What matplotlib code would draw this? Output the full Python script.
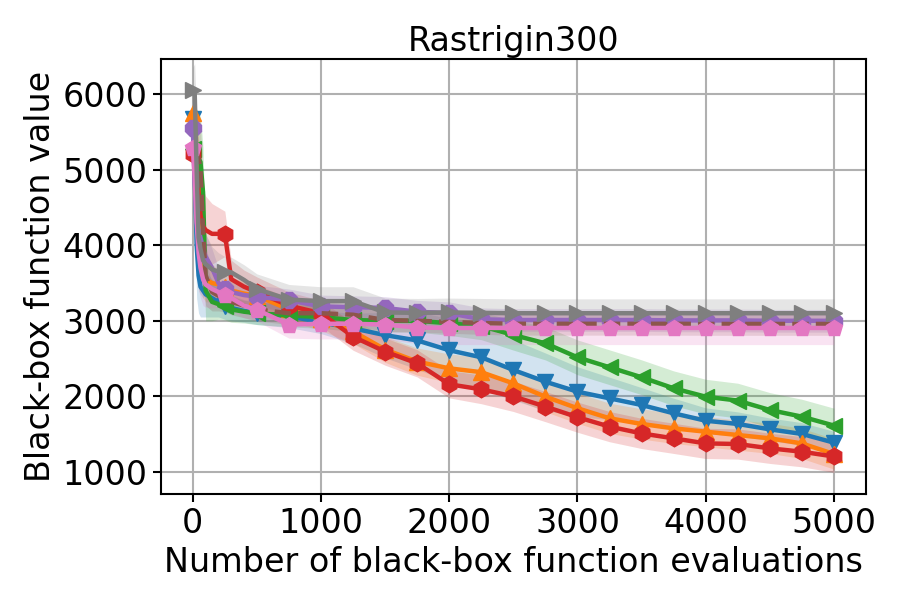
import matplotlib
matplotlib.use("Agg")
import matplotlib.pyplot as plt
import numpy as np

plt.rcParams['font.family'] = ['DejaVu Sans']

X = [0, 15, 30, 45, 60, 80, 100, 150, 200, 250, 300, 400, 500, 750, 1000,
     1250, 1500, 1750, 2000, 2250, 2500, 2750, 3000, 3250, 3500, 3750, 4000,
     4250, 4500, 4750, 5000]

blue = [5670, 5000, 4000, 3600, 3450, 3400, 3350, 3300, 3250, 3200, 3170, 3130, 3100, 3060, 2980,
        2900, 2810, 2740, 2610, 2517, 2349, 2194, 2062, 1974, 1886, 1776, 1678, 1635, 1564, 1503, 1388]
orange = [5750, 5300, 5200, 4800, 4000, 3700, 3550, 3500, 3480, 3450, 3400, 3360, 3330, 3150, 3020,
          2860, 2620, 2460, 2371, 2320, 2172, 1996, 1843, 1710, 1635, 1577, 1533, 1489, 1445, 1378, 1238]
green = [5270, 5250, 5200, 5150, 5100, 4700, 3400, 3250, 3220, 3190, 3150, 3120, 3100, 3070, 3050,
         3010, 3000, 3000, 2967, 2930, 2812, 2702, 2517, 2385, 2253, 2107, 1996, 1944, 1820, 1732, 1614]
red = [5200, 5150, 5000, 4700, 4400, 4250, 4200, 4150, 4150, 4150, 3550, 3450, 3380, 3200, 3100,
       2790, 2592, 2437, 2160, 2093, 2000, 1865, 1725, 1600, 1510, 1445, 1378, 1370, 1313, 1268, 1205]
purple = [5550, 4800, 4300, 4200, 4100, 3950, 3850, 3700, 3500, 3420, 3380, 3340, 3320, 3270, 3190,
          3180, 3170, 3120, 3100, 3020, 3010, 3010, 3010, 3010, 3010, 3005, 3005, 3005, 3000, 3000, 3000]
brown = [5250, 5250, 5200, 5150, 5000, 4200, 3600, 3380, 3330, 3300, 3250, 3200, 3150, 3100, 3100,
         3080, 3010, 3000, 2985, 2970, 2960, 2960, 2960, 2960, 2960, 2960, 2958, 2958, 2958, 2958, 2958]
pink = [5285, 4900, 4300, 3900, 3700, 3550, 3480, 3420, 3380, 3340, 3300, 3200, 3145, 2950, 2960,
        2960, 2950, 2910, 2905, 2905, 2905, 2905, 2905, 2905, 2905, 2905, 2905, 2905, 2905, 2905, 2905]
gray = [6050, 6000, 5000, 4100, 3950, 3800, 3750, 3680, 3650, 3650, 3640, 3540, 3420, 3280, 3260,
        3260, 3110, 3105, 3110, 3105, 3100, 3100, 3100, 3100, 3100, 3100, 3100, 3100, 3100, 3100, 3100]

blue_sd = [300, 600, 700, 500, 400, 350, 300, 250, 200, 180, 170, 150, 150, 150, 150,
           200, 300, 380, 420, 420, 400, 380, 330, 280, 230, 200, 170, 160, 150, 150, 150]
orange_sd = [300, 500, 600, 600, 500, 400, 300, 250, 200, 180, 170, 160, 150, 150, 150,
             160, 170, 180, 190, 200, 200, 200, 200, 200, 200, 200, 200, 200, 200, 200, 200]
green_sd = [300, 500, 600, 600, 600, 600, 400, 250, 200, 180, 170, 150, 150, 150, 150,
            150, 150, 150, 160, 180, 200, 220, 230, 230, 230, 230, 230, 230, 230, 230, 230]
red_sd = [300, 500, 600, 600, 600, 500, 450, 400, 350, 300, 250, 220, 200, 180, 170,
          180, 180, 180, 180, 190, 200, 200, 200, 200, 200, 200, 200, 200, 200, 200, 210]
purple_sd = [300, 600, 600, 500, 400, 350, 300, 250, 200, 180, 170, 160, 150, 150, 150,
             150, 150, 150, 150, 150, 150, 150, 150, 150, 150, 150, 150, 150, 150, 150, 150]
brown_sd = [300, 500, 600, 600, 600, 600, 400, 250, 200, 180, 170, 160, 150, 150, 150,
            150, 150, 150, 150, 150, 150, 150, 150, 150, 150, 150, 150, 150, 150, 150, 150]
pink_sd = [300, 500, 600, 500, 400, 350, 300, 250, 200, 180, 170, 160, 150, 180, 200,
           200, 200, 210, 220, 220, 220, 220, 220, 220, 220, 220, 220, 220, 220, 220, 220]
gray_sd = [300, 400, 700, 700, 600, 500, 400, 300, 250, 200, 200, 200, 200, 200, 190,
           190, 190, 190, 190, 190, 190, 190, 190, 190, 190, 190, 190, 190, 190, 190, 190]

series = [
    (blue, blue_sd, '#1f77b4', 'v', '-'),
    (orange, orange_sd, '#ff7f0e', '^', '-'),
    (green, green_sd, '#2ca02c', '<', '-'),
    (red, red_sd, '#d62728', 'h', '-'),
    (purple, purple_sd, '#9467bd', '8', '-'),
    (brown, brown_sd, '#8c564b', '', '--'),
    (pink, pink_sd, '#e377c2', 'p', '-'),
    (gray, gray_sd, '#7f7f7f', '>', '-'),
]

fig = plt.figure(figsize=(9, 6), dpi=100)
ax = fig.add_axes([0.1786, 0.1767, 0.9622 - 0.1786, 0.9017 - 0.1767])

xa = np.array(X)
mark_idx = [i for i, v in enumerate(X) if v % 250 == 0]
for vals, sd, col, mk, ls in series:
    v = np.array(vals, dtype=float)
    s = np.array(sd, dtype=float)
    ax.fill_between(xa, v - s, v + s, color=col, alpha=0.2, linewidth=0)
    ax.plot(xa, v, color=col, marker=mk if mk else None, linestyle=ls,
            linewidth=3.2, markersize=12, markevery=mark_idx)

ax.set_xlim(-250, 5250)
ax.set_ylim(709, 6463)
ax.set_xticks([0, 1000, 2000, 3000, 4000, 5000])
ax.set_yticks([1000, 2000, 3000, 4000, 5000, 6000])
ax.grid(True, color='#b0b0b0', linewidth=1.5)
ax.set_axisbelow(True)
for sp in ax.spines.values():
    sp.set_linewidth(1.5)
ax.tick_params(labelsize=24, width=1.5, length=6)
ax.set_title('Rastrigin300', fontsize=24)
ax.set_xlabel('Number of black-box function evaluations', fontsize=24)
ax.set_ylabel('Black-box function value', fontsize=24)

fig.savefig('out.png', dpi=100)
